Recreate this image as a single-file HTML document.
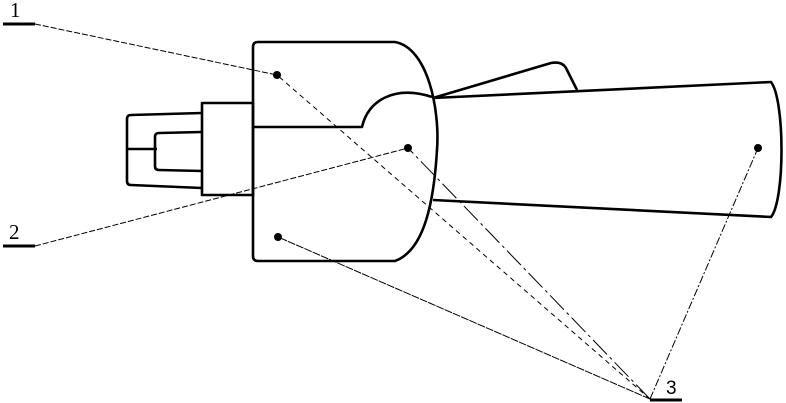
<!DOCTYPE html>
<html><head><style>html,body{margin:0;padding:0;background:#fff;}svg{display:block}</style></head>
<body>
<svg width="786" height="403" viewBox="0 0 786 403" xmlns="http://www.w3.org/2000/svg">
<g fill="none" stroke="#000" stroke-width="2.6" stroke-linejoin="round">
<path d="M258,42 L395,42 C428,48 440,110 437,150 C434,200 425,250 395,261 L258,261 Q253,261 253,256 L253,47 Q253,42 258,42 Z"/>
<path d="M253,127 L362,127 C368,100 395,85 432,97"/>
<rect x="202" y="103" width="51" height="92"/>
<path d="M202,113 L131,115 Q127,115 127,119 L127,181 Q127,185 131,185 L202,188"/>
<path d="M127,149 L157,149"/>
<path d="M202,132 L159,133 Q155,133 155,137 L155,166 Q155,170 159,170 L202,171"/>
<path d="M433,98 L771,82 C785,100 785,200 771,217 L433,200"/>
<path d="M433,98 L551,63 Q562,61 566,68 L577,90"/>
<line x1="3" y1="24" x2="35" y2="24" stroke-width="3"/>
<line x1="3" y1="246" x2="35" y2="246" stroke-width="3"/>
<line x1="650" y1="400" x2="682" y2="400" stroke-width="3"/>
</g>
<g fill="none" stroke="#000" stroke-width="1">
<line x1="35" y1="24" x2="277" y2="75" stroke-dasharray="6,2"/>
<line x1="35" y1="246" x2="408" y2="148" stroke-dasharray="6,2"/>
<line x1="650" y1="399" x2="277" y2="75" stroke-dasharray="5,4"/>
<line x1="650" y1="399" x2="408" y2="148" stroke-dasharray="20,4,3,4"/>
<line x1="650" y1="399" x2="278" y2="237" stroke-dasharray="8,1"/>
<line x1="650" y1="399" x2="758" y2="148" stroke-dasharray="8,2,2,2"/>
</g>
<g fill="#000">
<circle cx="277" cy="75" r="4"/><circle cx="408" cy="148" r="4"/>
<circle cx="278" cy="237" r="4"/><circle cx="758" cy="148" r="4"/>
</g>
<g font-family="Liberation Serif, serif" font-size="21" fill="#000">
<text x="10" y="17">1</text>
<text x="9" y="239">2</text>
<text x="666" y="394" font-family="Liberation Sans, sans-serif" font-size="19">3</text>
</g>
</svg>
</body></html>
